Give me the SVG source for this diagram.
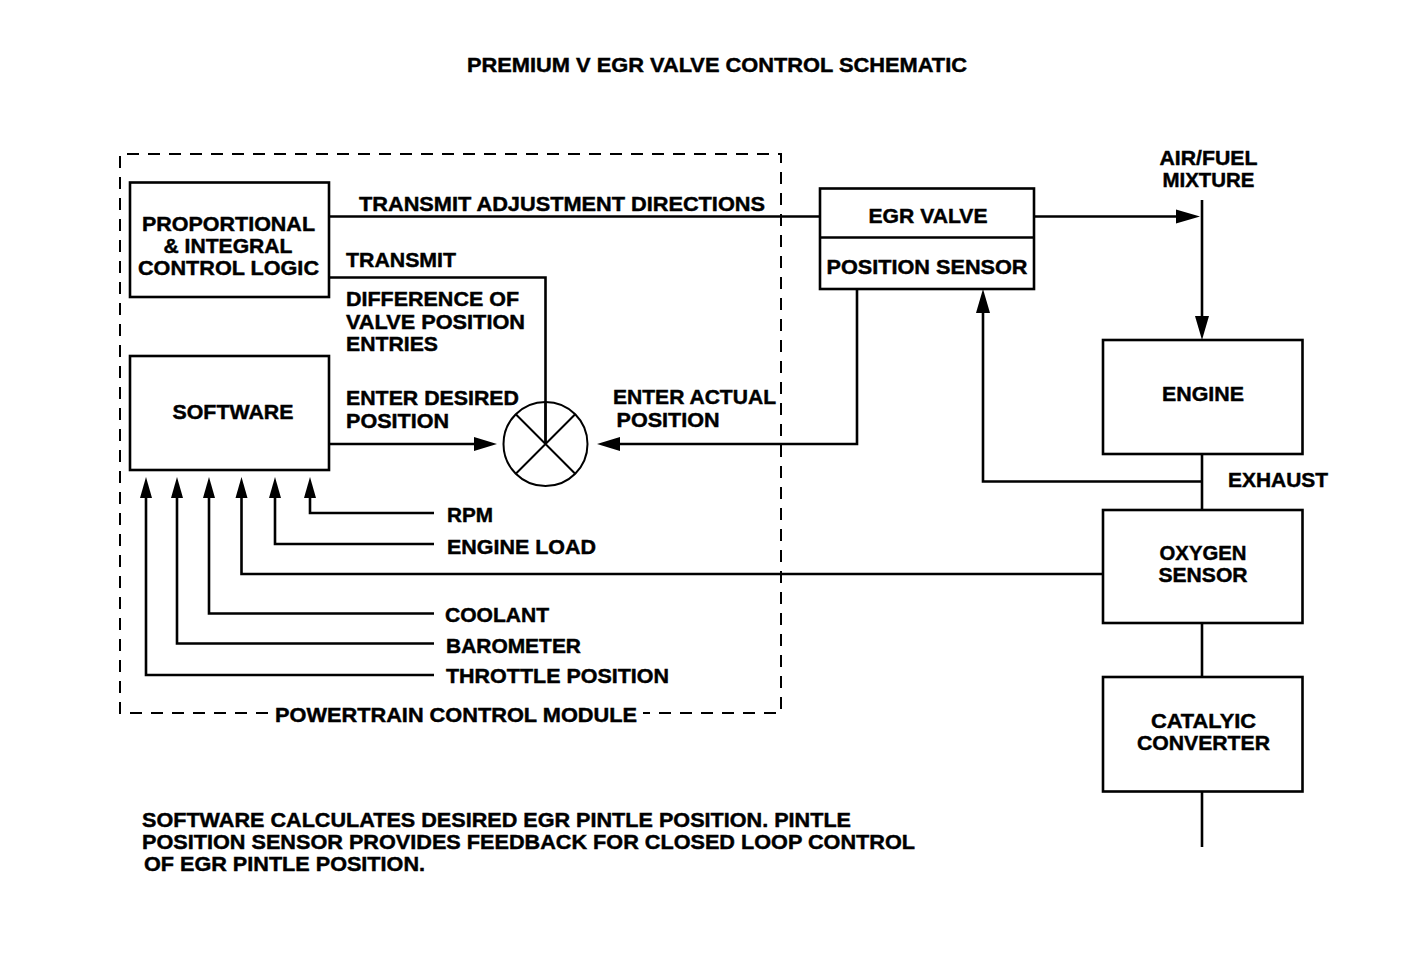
<svg xmlns="http://www.w3.org/2000/svg" width="1427" height="960" viewBox="0 0 1427 960">
<style>
text{font-family:"Liberation Sans",Arial,sans-serif;font-weight:bold;font-size:21px;fill:#000;stroke:#000;stroke-width:0.45}
.c{text-anchor:middle}
.box{fill:#fff;stroke:#000;stroke-width:2.6}
.ln{fill:none;stroke:#000;stroke-width:2.6}
.dash{fill:none;stroke:#000;stroke-width:2;stroke-dasharray:12 9}
.ah{fill:#000;stroke:none}
</style>
<rect width="1427" height="960" fill="#fff"/>
<text x="717" y="72" class="c" textLength="500" lengthAdjust="spacingAndGlyphs">PREMIUM V EGR VALVE CONTROL SCHEMATIC</text>

<g id="pcm">
<path class="dash" d="M268 713 H120 V154 H781 V713 H643"/>
<text x="456" y="722" class="c" textLength="362" lengthAdjust="spacingAndGlyphs">POWERTRAIN CONTROL MODULE</text>
</g>

<g id="connectors">
<path class="ln" d="M329 216.5 H820"/>
<path class="ln" d="M329 277.5 H545.5 V444"/>
<path class="ln" d="M329 444 H477"/>
<polygon class="ah" points="497,444 474,437 474,451"/>
<path class="ln" d="M857 289 V444 H618"/>
<polygon class="ah" points="597,444 620,437 620,451"/>
<path class="ln" d="M1034 216.5 H1178"/>
<polygon class="ah" points="1200,216.5 1176,209.5 1176,223.5"/>
<path class="ln" d="M1202 200 V320"/>
<polygon class="ah" points="1202,340 1195,316 1209,316"/>
<path class="ln" d="M1202 454 V510"/>
<path class="ln" d="M1202 481.5 H983 V310"/>
<polygon class="ah" points="983,289 976,313 990,313"/>
<path class="ln" d="M1202 623 V677"/>
<path class="ln" d="M1202 792 V847"/>
<path class="ln" d="M1103 574 H241.5 V494"/>
<polygon class="ah" points="241.5,477 235.5,498 247.5,498"/>
<path class="ln" d="M434 513 H310 V494"/>
<polygon class="ah" points="310,477 304,498 316,498"/>
<path class="ln" d="M434 544 H275 V494"/>
<polygon class="ah" points="275,477 269,498 281,498"/>
<path class="ln" d="M434 613.5 H209 V494"/>
<polygon class="ah" points="209,477 203,498 215,498"/>
<path class="ln" d="M434 643.5 H177 V494"/>
<polygon class="ah" points="177,477 171,498 183,498"/>
<path class="ln" d="M434 675 H146 V494"/>
<polygon class="ah" points="146,477 140,498 152,498"/>
</g>

<g id="labels">
<text x="359" y="211" textLength="406" lengthAdjust="spacingAndGlyphs">TRANSMIT ADJUSTMENT DIRECTIONS</text>
<text x="346" y="267" textLength="110" lengthAdjust="spacingAndGlyphs">TRANSMIT</text>
<text x="346" y="306" textLength="173" lengthAdjust="spacingAndGlyphs">DIFFERENCE OF</text>
<text x="346" y="328.5" textLength="179" lengthAdjust="spacingAndGlyphs">VALVE POSITION</text>
<text x="346" y="351" textLength="92" lengthAdjust="spacingAndGlyphs">ENTRIES</text>
<text x="346" y="405" textLength="173" lengthAdjust="spacingAndGlyphs">ENTER DESIRED</text>
<text x="346" y="427.5" textLength="103" lengthAdjust="spacingAndGlyphs">POSITION</text>
<text x="613" y="403.5" textLength="163" lengthAdjust="spacingAndGlyphs">ENTER ACTUAL</text>
<text x="616.5" y="427" textLength="103" lengthAdjust="spacingAndGlyphs">POSITION</text>
<text x="1159.5" y="165" textLength="98" lengthAdjust="spacingAndGlyphs">AIR/FUEL</text>
<text x="1162.5" y="187" textLength="92" lengthAdjust="spacingAndGlyphs">MIXTURE</text>
<text x="1228" y="487" textLength="100" lengthAdjust="spacingAndGlyphs">EXHAUST</text>
<text x="447" y="522" textLength="46" lengthAdjust="spacingAndGlyphs">RPM</text>
<text x="447" y="553.5" textLength="149" lengthAdjust="spacingAndGlyphs">ENGINE LOAD</text>
<text x="445" y="622" textLength="104" lengthAdjust="spacingAndGlyphs">COOLANT</text>
<text x="446" y="653" textLength="135" lengthAdjust="spacingAndGlyphs">BAROMETER</text>
<text x="446" y="683" textLength="223" lengthAdjust="spacingAndGlyphs">THROTTLE POSITION</text>
</g>

<g id="pi-logic">
<rect class="box" x="130" y="182.5" width="199" height="114.5"/>
<text x="228.5" y="231" class="c" textLength="173" lengthAdjust="spacingAndGlyphs">PROPORTIONAL</text>
<text x="228" y="252.5" class="c" textLength="129" lengthAdjust="spacingAndGlyphs">&amp; INTEGRAL</text>
<text x="228.5" y="274.5" class="c" textLength="181" lengthAdjust="spacingAndGlyphs">CONTROL LOGIC</text>
</g>

<g id="software">
<rect class="box" x="130" y="356" width="199" height="114"/>
<text x="233" y="418.5" class="c" textLength="121" lengthAdjust="spacingAndGlyphs">SOFTWARE</text>
</g>

<g id="summing-junction">
<circle cx="545.5" cy="444" r="42" fill="none" stroke="#000" stroke-width="2"/>
<path d="M515.8 414.3 L575.2 473.7 M575.2 414.3 L515.8 473.7 M545.5 402 V444" fill="none" stroke="#000" stroke-width="2"/>
</g>

<g id="egr-valve">
<rect class="box" x="820" y="188.5" width="214" height="100.5"/>
<path class="ln" d="M820 237.5 H1033"/>
<text x="928" y="222.5" class="c" textLength="119" lengthAdjust="spacingAndGlyphs">EGR VALVE</text>
<text x="927" y="273.5" class="c" textLength="201" lengthAdjust="spacingAndGlyphs">POSITION SENSOR</text>
</g>

<g id="engine">
<rect class="box" x="1103" y="340" width="199.5" height="114"/>
<text x="1203" y="401" class="c" textLength="82" lengthAdjust="spacingAndGlyphs">ENGINE</text>
</g>

<g id="oxygen-sensor">
<rect class="box" x="1103" y="510" width="199.5" height="113"/>
<text x="1203" y="560" class="c" textLength="87" lengthAdjust="spacingAndGlyphs">OXYGEN</text>
<text x="1203" y="581.5" class="c" textLength="89" lengthAdjust="spacingAndGlyphs">SENSOR</text>
</g>

<g id="catalytic-converter">
<rect class="box" x="1103" y="677" width="199.5" height="114.5"/>
<text x="1203.5" y="728" class="c" textLength="105" lengthAdjust="spacingAndGlyphs">CATALYIC</text>
<text x="1203.5" y="749.5" class="c" textLength="133" lengthAdjust="spacingAndGlyphs">CONVERTER</text>
</g>

<g id="note">
<text x="142" y="827" textLength="709" lengthAdjust="spacingAndGlyphs">SOFTWARE CALCULATES DESIRED EGR PINTLE POSITION. PINTLE</text>
<text x="142" y="849" textLength="773" lengthAdjust="spacingAndGlyphs">POSITION SENSOR PROVIDES FEEDBACK FOR CLOSED LOOP CONTROL</text>
<text x="144" y="871" textLength="281" lengthAdjust="spacingAndGlyphs">OF EGR PINTLE POSITION.</text>
</g>
</svg>
